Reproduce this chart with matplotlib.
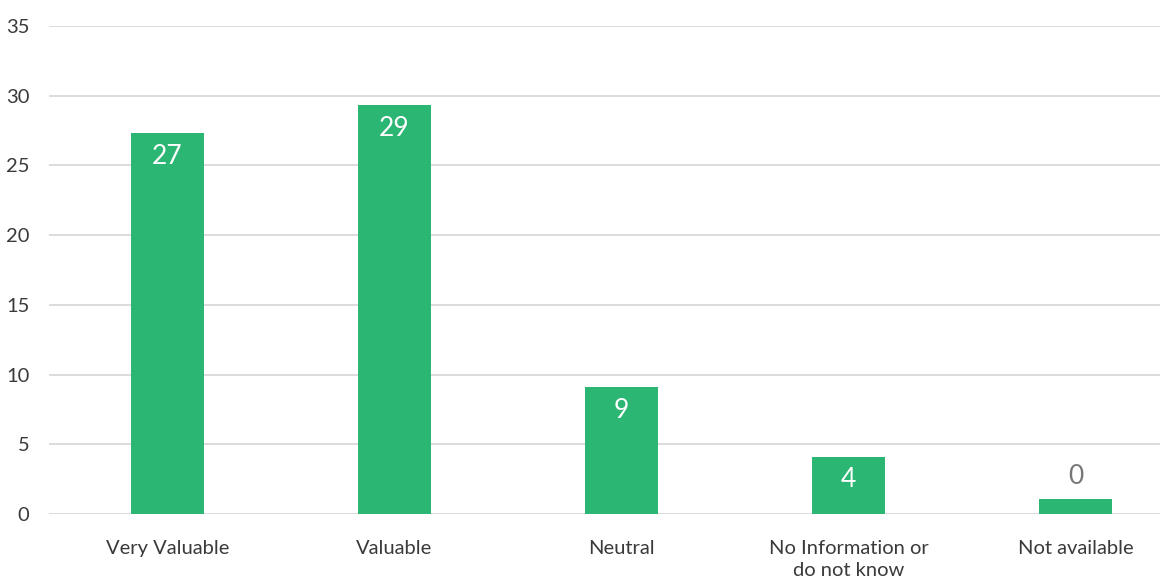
import matplotlib
matplotlib.use("Agg")
import matplotlib.pyplot as plt
import numpy as np

# ---------------- DATA ----------------
categories = ["Very Valuable", "Valuable", "Neutral", "No Information or\ndo not know", "Not available"]
bar_heights = [27.3, 29.3, 9.1, 4.1, 1.1]   # as drawn in the picture
value_labels = ["27", "29", "9", "4", "0"]
y_ticks = [0, 5, 10, 15, 20, 25, 30, 35]
# --------------------------------------

BAR_COLOR = "#2bb673"
GRID_COLOR = "#d9d9d9"
TEXT_COLOR = "#3a3a3a"

plt.rcParams["font.family"] = ["Lato", "DejaVu Sans"]

fig = plt.figure(figsize=(11.6, 5.77), dpi=100)
ax = fig.add_axes([49 / 1160, 1 - 514 / 577, 1 - 49 / 1160, (514 - 26) / 577])

x = np.arange(len(categories))
bars = ax.bar(x, bar_heights, width=0.32, color=BAR_COLOR, zorder=3)

for rect, lab in zip(bars, value_labels):
    h = rect.get_height()
    cx = rect.get_x() + rect.get_width() / 2
    if h > 3:
        ax.text(cx, h - 0.75, lab, ha="center", va="top", color="white",
                fontsize=19, zorder=4)
    else:
        ax.text(cx, h + 0.7, lab, ha="center", va="bottom", color="#777777",
                fontsize=19, zorder=4)

ax.set_ylim(0, 35)
ax.set_xlim(-0.522, 4.372)
ax.set_yticks(y_ticks)
ax.set_xticks(x)
ax.set_xticklabels(categories)
ax.yaxis.grid(True, color=GRID_COLOR, linewidth=1.3, zorder=0)
ax.set_axisbelow(True)
for s in ax.spines.values():
    s.set_visible(False)
ax.tick_params(axis="both", length=0, colors=TEXT_COLOR, labelsize=14.5)
ax.tick_params(axis="y", pad=14)
ax.tick_params(axis="x", pad=19)
for t in ax.get_xticklabels():
    t.set_linespacing(1.35)

fig.savefig("out.png", dpi=100, facecolor="white")
